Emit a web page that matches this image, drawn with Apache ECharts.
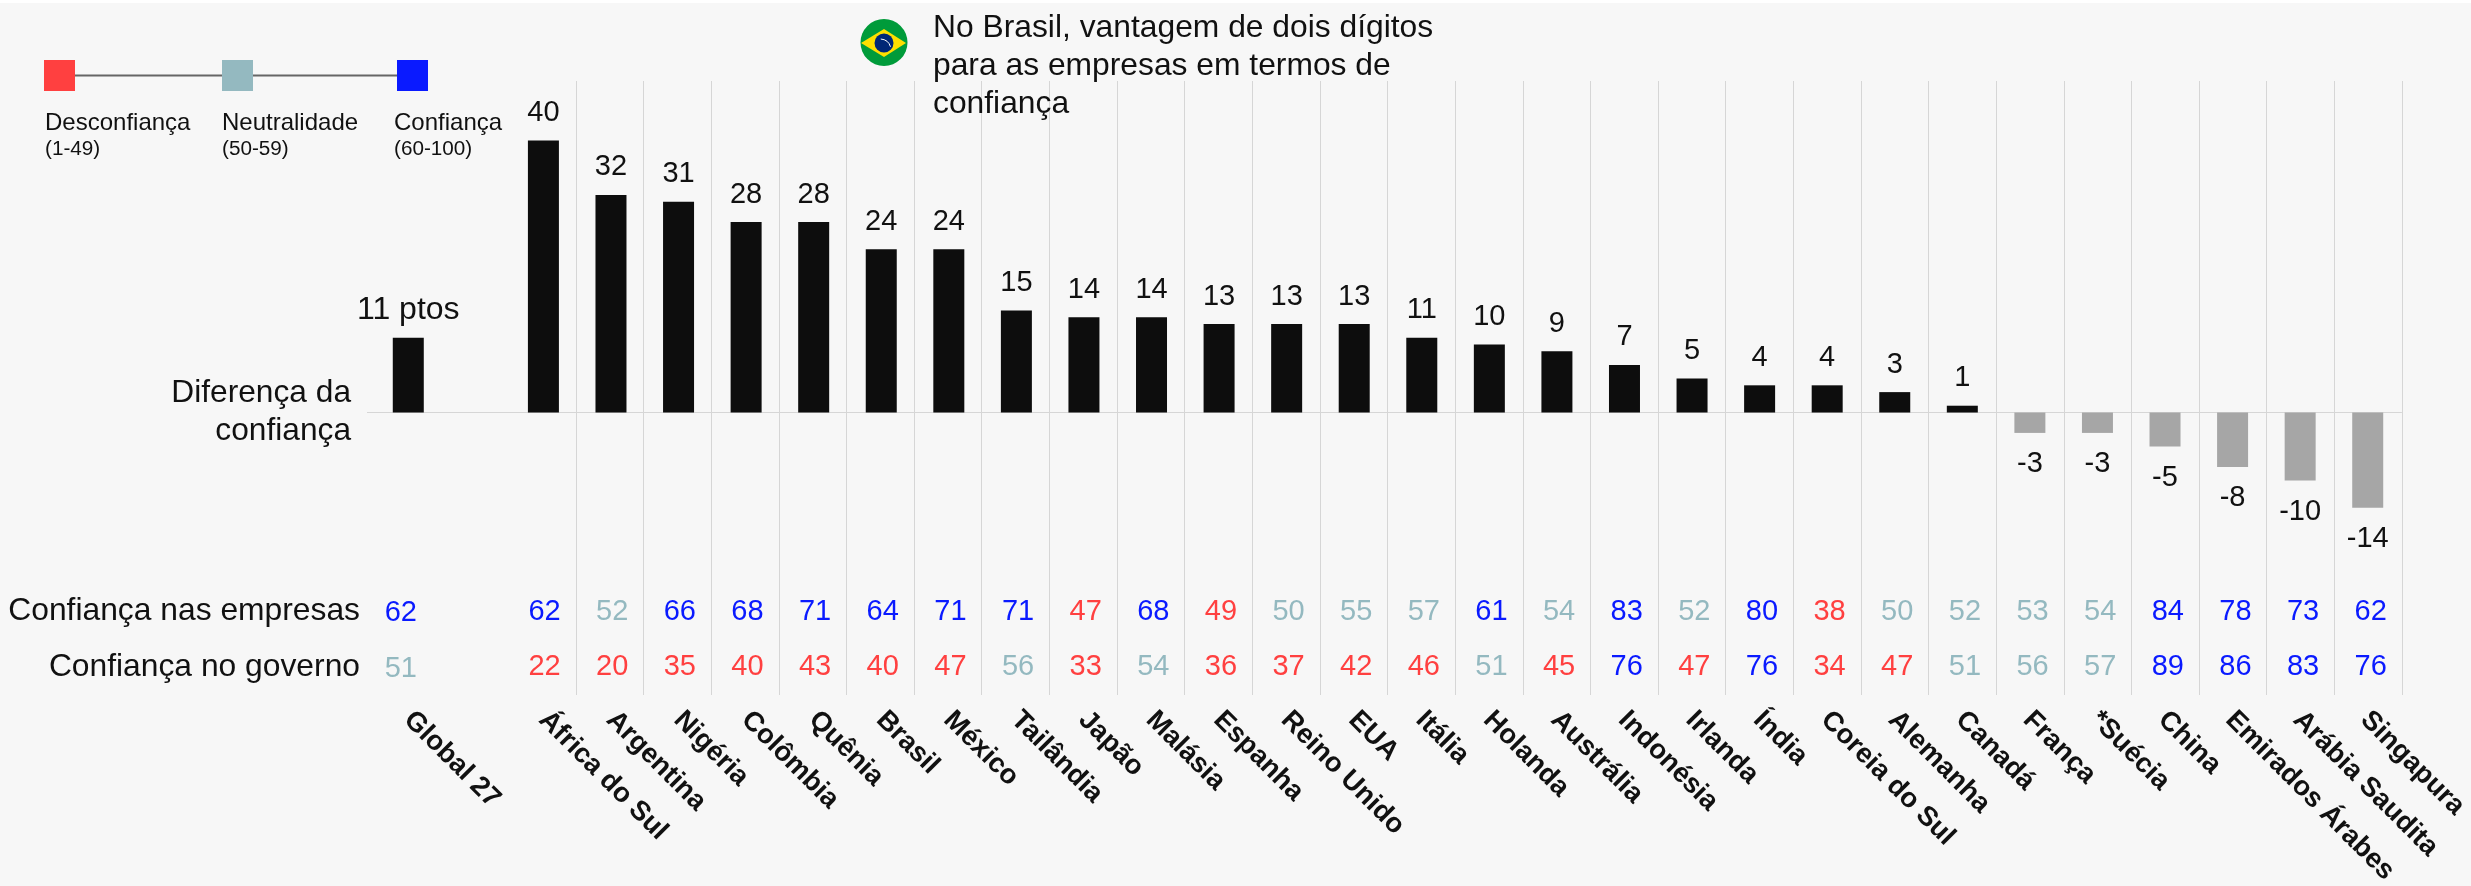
<!DOCTYPE html>
<html><head><meta charset="utf-8">
<style>html,body{margin:0;padding:0;background:#f7f7f7}#c{width:2471px;height:886px}</style>
<script src="https://cdn.jsdelivr.net/npm/echarts@6/dist/echarts.min.js"></script>
</head><body><div id="c"></div>
<script>
const categories = ['Global 27','','África do Sul','Argentina','Nigéria','Colômbia','Quênia','Brasil','México','Tailândia','Japão','Malásia','Espanha','Reino Unido','EUA','Itália','Holanda','Austrália','Indonésia','Irlanda','Índia','Coreia do Sul','Alemanha','Canadá','França','*Suécia','China','Emirados Árabes','Arábia Saudita','Singapura'];
const diferenca = [11,null,40,32,31,28,28,24,24,15,14,14,13,13,13,11,10,9,7,5,4,4,3,1,-3,-3,-5,-8,-10,-14];
const empresas = [62,null,62,52,66,68,71,64,71,71,47,68,49,50,55,57,61,54,83,52,80,38,50,52,53,54,84,78,73,62];
const governo = [51,null,22,20,35,40,43,40,47,56,33,54,36,37,42,46,51,45,76,47,76,34,47,51,56,57,89,86,83,76];
const rows = ['Confiança nas empresas','Confiança no governo'];
const legendItems = [['Desconfiança','(1-49)'],['Neutralidade','(50-59)'],['Confiança','(60-100)']];
const headline = 'No Brasil, vantagem de dois dígitos\npara as empresas em termos de\nconfiança';

const FONT = '"Liberation Sans", Arial, sans-serif';
const RED = '#ff4040', TEAL = '#94b9c0', BLUE = '#0a1aff', INK = '#0d0d0d', GREY = '#a6a6a6', RULE = '#d6d6d6';
const tier = v => v < 50 ? RED : v < 60 ? TEAL : BLUE;

const barData = diferenca.map((v, i) => v === null ? null : ({
  value: v,
  itemStyle: { color: v < 0 ? GREY : INK },
  label: i === 0
    ? { formatter: v + ' ptos', fontSize: 32, position: 'top', distance: 12 }
    : { position: v < 0 ? 'bottom' : 'top', distance: v < 0 ? 17 : 13 }
}));

const rowData = (arr, r) => arr.map((v, i) => v === null ? null : ({
  value: [i, r, v],
  label: { color: tier(v), offset: i === 0 ? [-8, r ? 2 : 1] : [0.5, 0] }
})).filter(Boolean);

const rowSeries = (arr, r) => ({
  type: 'scatter', xAxisIndex: 2, yAxisIndex: 2, symbolSize: 0, silent: true,
  itemStyle: { opacity: 1 },
  data: rowData(arr, r),
  label: { show: true, position: 'inside', fontFamily: FONT, fontSize: 29,
           formatter: p => p.value[2] }
});

const txt = (x, y, text, size, align) => ({
  type: 'text', x, y, z: 10,
  style: { text, fontFamily: FONT, fontSize: size, fill: '#111', align: align || 'left', verticalAlign: 'middle', lineHeight: 38 }
});
const square = (x, color) => ({ type: 'rect', z: 10, shape: { x, y: 60, width: 31, height: 31 }, style: { fill: color } });

const graphic = [
  { type: 'rect', z: 9, shape: { x: 0, y: 0, width: 2471, height: 3 }, style: { fill: '#ffffff' } },
  { type: 'line', z: 1, shape: { x1: 367, y1: 412.5, x2: 375, y2: 412.5 }, style: { stroke: RULE, lineWidth: 1 } },
  { type: 'line', z: 9, shape: { x1: 75, y1: 75.5, x2: 397, y2: 75.5 }, style: { stroke: '#666666', lineWidth: 2 } },
  square(44, RED), square(222, TEAL), square(397, BLUE),
  txt(45, 123, legendItems[0][0], 24), txt(45, 149, legendItems[0][1], 20.7),
  txt(222, 123, legendItems[1][0], 24), txt(222, 149, legendItems[1][1], 20.7),
  txt(394, 123, legendItems[2][0], 24), txt(394, 149, legendItems[2][1], 20.7),
  txt(351, 393, 'Diferença da', 31.7, 'right'), txt(351, 431, 'confiança', 31.7, 'right'),
  { type: 'text', x: 933, y: 9, z: 10, style: { text: headline, fontFamily: FONT, fontSize: 31.8, fill: '#111', lineHeight: 38, verticalAlign: 'top' } },
  { type: 'circle', z: 10, shape: { cx: 884, cy: 42.5, r: 23.5 }, style: { fill: '#009b3a' } },
  { type: 'polygon', z: 11, shape: { points: [[861, 43], [884, 29], [906, 43], [884, 57]] }, style: { fill: '#fedf00' } },
  { type: 'circle', z: 12, shape: { cx: 884, cy: 43, r: 9.5 }, style: { fill: '#002776' } },
  { type: 'arc', z: 13, shape: { cx: 880, cy: 50, r: 11, startAngle: -1.5, endAngle: -0.3 }, style: { stroke: '#ffffff', lineWidth: 1, fill: null } }
];

const grids = [
  { left: 373, width: 2029, top: 81, height: 614, outerBoundsMode: 'none' },        // column rules
  { left: 374.5, width: 2027, top: 81, height: 614, outerBoundsMode: 'none' },      // bars
  { left: 375, width: 2029, top: 584, height: 110.7, outerBoundsMode: 'none' },     // table rows
  { left: 374.5, width: 2024, top: 584, height: 110.7, outerBoundsMode: 'none' }    // category names
];

const option = {
  backgroundColor: '#f7f7f7',
  animation: false,
  textStyle: { fontFamily: FONT },
  graphic,
  grid: grids,
  xAxis: [
    { type: 'category', gridIndex: 0, data: categories, position: 'bottom',
      axisLine: { show: false }, axisTick: { show: false }, axisLabel: { show: false },
      splitLine: { show: true, interval: i => i >= 3, lineStyle: { color: RULE, width: 1 } } },
    { type: 'category', gridIndex: 1, data: categories, position: 'bottom',
      axisLine: { show: true, onZero: true, lineStyle: { color: RULE, width: 1 } },
      axisTick: { show: false }, axisLabel: { show: false }, splitLine: { show: false } },
    { type: 'category', gridIndex: 2, data: categories, position: 'bottom',
      axisLine: { show: false }, axisTick: { show: false }, splitLine: { show: false }, axisLabel: { show: false } },
    { type: 'category', gridIndex: 3, data: categories, position: 'bottom',
      axisLine: { show: false }, axisTick: { show: false }, splitLine: { show: false },
      axisLabel: { show: true, interval: 0, rotate: -45, margin: 21, fontFamily: FONT, fontWeight: 'bold', fontSize: 27.5, color: '#111' } }
  ],
  yAxis: [
    { type: 'value', gridIndex: 0, min: -41.54, max: 48.75, show: false, splitLine: { show: false } },
    { type: 'value', gridIndex: 1, min: -41.54, max: 48.75, show: false, splitLine: { show: false } },
    { type: 'category', gridIndex: 2, data: rows, inverse: true,
      axisLine: { show: false }, axisTick: { show: false }, splitLine: { show: false },
      axisLabel: { show: true, margin: 15, fontFamily: FONT, fontSize: 31.8, color: '#111' } },
    { type: 'value', gridIndex: 3, show: false, splitLine: { show: false } }
  ],
  series: [
    { type: 'bar', xAxisIndex: 1, yAxisIndex: 1, barWidth: 31, data: barData, silent: true,
      label: { show: true, fontFamily: FONT, fontSize: 29, color: '#111' } },
    rowSeries(empresas, 0),
    rowSeries(governo, 1)
  ]
};
echarts.init(document.getElementById('c'), null, { renderer: 'canvas' }).setOption(option);
</script></body></html>
